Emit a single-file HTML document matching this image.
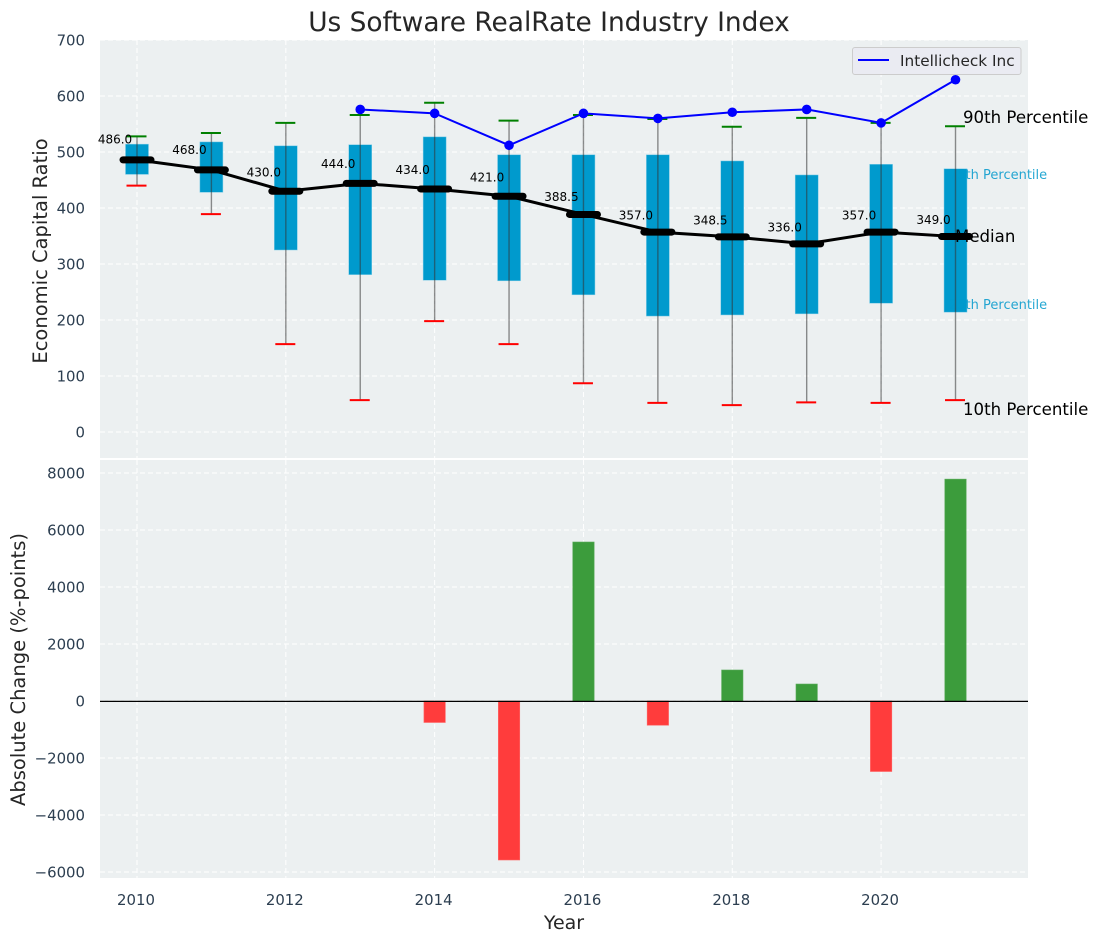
<!DOCTYPE html>
<html lang="en">
<head>
<meta charset="utf-8">
<title>Us Software RealRate Industry Index</title>
<style>
html,body{margin:0;padding:0;background:#fff;width:1098px;height:942px;overflow:hidden}
svg{display:block}
text{font-family:"DejaVu Sans","Liberation Sans",sans-serif}
</style>
</head>
<body>
<svg id="chart" xmlns="http://www.w3.org/2000/svg" width="1098" height="942" viewBox="0 0 1098 942"></svg>
<script>
const years = [2010,2011,2012,2013,2014,2015,2016,2017,2018,2019,2020,2021];
const p90 = [528,534,552,566,588,556,566,559,545,561,552,546];
const p75 = [514,518,511,513,527,495,495,495,484,459,478,470];
const medians = [486,468,430,444,434,421,388.5,357,348.5,336,357,349];
const p25 = [460,428,325,281,271,270,245,207,209,211,230,214];
const p10 = [440,389,157,57,198,157,87,52,48,53,52,57];
const companyYears = [2013,2014,2015,2016,2017,2018,2019,2020,2021];
const companyValues = [576,569,512,569,560,571,576,552,629];
const changeYears = [2014,2015,2016,2017,2018,2019,2020,2021];
const changeValues = [-754,-5579,5579,-850,1088,596,-2474,7785];
const topTicks = [0,100,200,300,400,500,600,700];
const bottomTicks = [-6000,-4000,-2000,0,2000,4000,6000,8000];
const xTicks = [2010,2012,2014,2016,2018,2020];

const NS = 'http://www.w3.org/2000/svg';
const svg = document.getElementById('chart');
const L = 100, R = 1028;
const X = y => 137 + (y - 2010) * 74.41;
const YT = v => 432 - v * 0.56;
const YB = v => 701 - v * 0.0285;

function mk(tag, props, parent) {
  const e = document.createElementNS(NS, tag);
  for (const k in props) e.setAttribute(k, props[k]);
  (parent || svg).appendChild(e);
  return e;
}
function tx(str, x, y, size, fill, anchor, extra) {
  const e = mk('text', Object.assign({x: x, y: y, 'font-size': size, fill: fill, 'text-anchor': anchor || 'start'}, extra || {}));
  e.textContent = str;
  return e;
}
const TICK = '#2c3e50', LAB = '#262626';
const gridStyle = {stroke: '#ffffff', 'stroke-width': 1, 'stroke-dasharray': '5 3', fill: 'none'};

let el = mk('rect', {x: L, y: 40, width: R - L, height: 418, fill: '#ecf0f1'});


el = mk('rect', {x: L, y: 460, width: R - L, height: 418, fill: '#ecf0f1'});



topTicks.forEach(v => {
  const g = mk('line', Object.assign({x1: L, x2: R, y1: YT(v), y2: YT(v)}, gridStyle));
  
  
  const t = tx(String(v), 85, YT(v) + 5.3, 14.9, TICK, 'end');
  
  
});
bottomTicks.forEach(v => {
  const g = mk('line', Object.assign({x1: L, x2: R, y1: YB(v), y2: YB(v)}, gridStyle));
  
  
  const t = tx(String(v).replace('-', '\u2212'), 85, YB(v) + 5.3, 14.9, TICK, 'end');
  
  
});
xTicks.forEach(y => {
  const g1 = mk('line', Object.assign({x1: X(y), x2: X(y), y1: 40, y2: 458}, gridStyle));
  
  
  const g2 = mk('line', Object.assign({x1: X(y), x2: X(y), y1: 460, y2: 878}, gridStyle));
  
  
  const t = tx(String(y), X(y) - 1, 905, 14.9, TICK, 'middle');
  
  
});

/* boxes */
years.forEach((y, i) => {
  const b = mk('rect', {x: X(y) - 11.5, y: YT(p75[i]), width: 23, height: YT(p25[i]) - YT(p75[i]), fill: '#009acd', stroke: '#7fcce6', 'stroke-width': 0.5});
  
  
});
/* percentile annotations drawn over the last box in nearly the same colour */
el = tx('75th Percentile', 949, 179, 13, '#0099cc', 'start', {opacity: 0.85});


el = tx('25th Percentile', 949, 309, 13, '#0099cc', 'start', {opacity: 0.85});


/* whiskers */
years.forEach((y, i) => {
  const w = mk('line', {x1: X(y), x2: X(y), y1: YT(p90[i]), y2: YT(p10[i]), stroke: '#333333', 'stroke-opacity': 0.55, 'stroke-width': 1.4});
  
  
  const h = mk('line', {x1: X(y) - 10.5, x2: X(y) + 9.5, y1: YT(p90[i]), y2: YT(p90[i]), stroke: '#008000', 'stroke-width': 2});
  
  
  const l = mk('line', {x1: X(y) - 10.5, x2: X(y) + 9.5, y1: YT(p10[i]), y2: YT(p10[i]), stroke: '#ff0000', 'stroke-width': 2});
  
  
});
/* median line */
el = mk('polyline', {points: years.map((y, i) => X(y) + ',' + YT(medians[i])).join(' '), fill: 'none', stroke: '#000', 'stroke-width': 3});


years.forEach((y, i) => {
  const m = mk('line', {x1: X(y) - 14, x2: X(y) + 14, y1: YT(medians[i]), y2: YT(medians[i]), stroke: '#000', 'stroke-width': 7, 'stroke-linecap': 'round'});
  
  
  const t = tx(medians[i].toFixed(1), X(y) - 22, YT(medians[i] * 1.05 + 13) + 4.5, 12, '#000', 'middle');
  
  
});
/* company line */
el = mk('polyline', {points: companyYears.map((y, i) => X(y) + ',' + YT(companyValues[i])).join(' '), fill: 'none', stroke: '#0000ff', 'stroke-width': 2});


companyYears.forEach((y, i) => {
  const c = mk('circle', {cx: X(y), cy: YT(companyValues[i]), r: 4.8, fill: '#0000ff'});
  
  
});
/* annotations */
el = tx('90th Percentile', 963, 123, 16.6, '#000');


el = tx('Median', 955, 242, 16.6, '#000');


el = tx('10th Percentile', 963, 415, 16.6, '#000');



/* legend */
el = mk('rect', {x: 852.5, y: 47.5, width: 168.5, height: 27, rx: 2.5, fill: '#eaeaf2', 'fill-opacity': 0.9, stroke: '#cccccc', 'stroke-width': 1});


el = mk('line', {x1: 858, x2: 889, y1: 60, y2: 60, stroke: '#0000ff', 'stroke-width': 2});


el = tx('Intellicheck Inc', 900, 66, 15.3, LAB);



/* change bars */
changeYears.forEach((y, i) => {
  const v = changeValues[i];
  const top = Math.min(YB(0), YB(v));
  const b = mk('rect', {x: X(y) - 10.7, y: top, width: 21.4, height: Math.abs(YB(v) - YB(0)), fill: v >= 0 ? '#3c9c3c' : '#ff3c3c', stroke: v >= 0 ? '#5bab5b' : '#ff6464', 'stroke-width': 0.6});
  
  
});
el = mk('line', {x1: L, x2: R, y1: 701.4, y2: 701.4, stroke: '#000', 'stroke-width': 1.3});



/* titles */
el = tx('Us Software RealRate Industry Index', 549, 31, 26.4, LAB, 'middle');


el = tx('Economic Capital Ratio', 0, 0, 19.5, LAB, 'middle', {transform: 'translate(47 251) rotate(-90)'});


el = tx('Absolute Change (%-points)', 0, 0, 19.5, LAB, 'middle', {transform: 'translate(25 669.5) rotate(-90)'});


el = tx('Year', 564, 929, 19, LAB, 'middle');


</script>
</body>
</html>
